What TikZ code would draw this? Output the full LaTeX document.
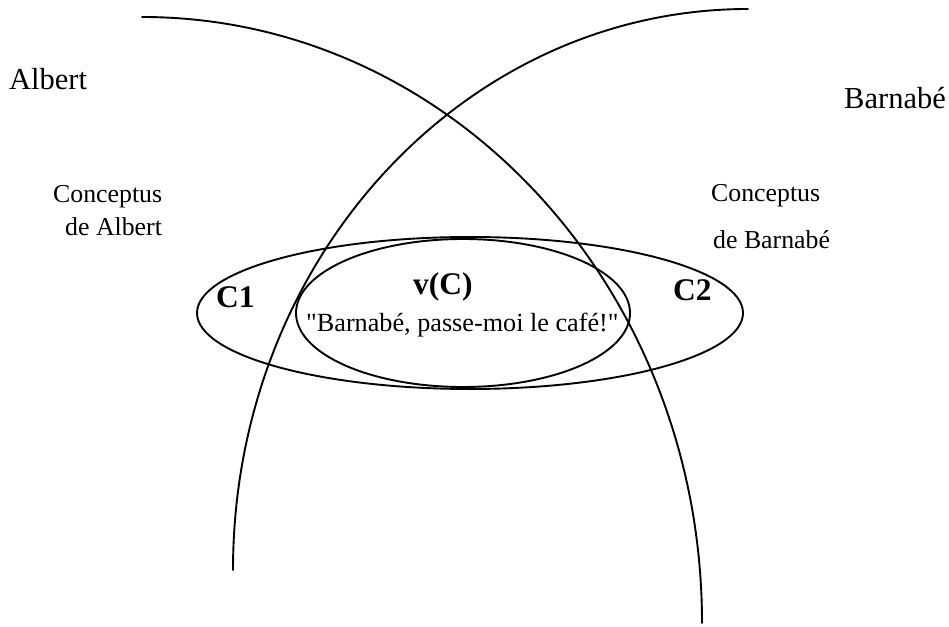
\documentclass[tikz,border=0pt]{standalone}
\usepackage{fontspec}
\setmainfont{Liberation Serif}[Ligatures=TeXOff]
\begin{document}
\begin{tikzpicture}[x=1pt,y=1pt,
  curve/.style={line width=1.9pt, line cap=round},
  bigname/.style={anchor=base west, inner sep=0pt, font=\fontsize{30.5}{36}\selectfont},
  small/.style={anchor=base west, inner sep=0pt, font=\fontsize{25.8}{30}\selectfont},
  setname/.style={anchor=base west, inner sep=0pt, font=\fontsize{31.5}{36}\selectfont\bfseries},
  quote/.style={anchor=base west, inner sep=0pt, font=\fontsize{26.2}{30}\selectfont}]
\useasboundingbox (0,0) rectangle (949,626);
% Albert's arc and Barnabe's arc
\coordinate (albstart) at (142,609);
\coordinate (barstart) at (748,617);
\draw[curve] (albstart) arc[start angle=90, end angle=0, x radius=560pt, y radius=606pt];
\draw[curve] (barstart) arc[start angle=90, end angle=180, x radius=515pt, y radius=561pt];
% concept ellipses
\coordinate (outerc) at (470,313);
\coordinate (innerc) at (463,313);
\draw[curve] (outerc) ellipse[x radius=273pt, y radius=76pt];
\draw[curve] (innerc) ellipse[x radius=167pt, y radius=74pt];
% labels
\node[bigname] (albert) at (9,536) {Albert};
\node[bigname] (barnabe) at (844,517) {Barnabé};
\node[small] (conca) at (53,423) {Conceptus};
\node[small] (dealb) at (65,390) {de Albert};
\node[small] (concb) at (711,424) {Conceptus};
\node[small] (debar) at (713,377) {de Barnabé};
\node[setname] (c1) at (216,318) {C1};
\node[setname] (c2) at (673,325) {C2};
\node[setname] (vc) at (413,331) {v(C)};
\node[quote] (phrase) at (306,294) {"Barnabé, passe-moi le café!"};
\end{tikzpicture}
\end{document}
